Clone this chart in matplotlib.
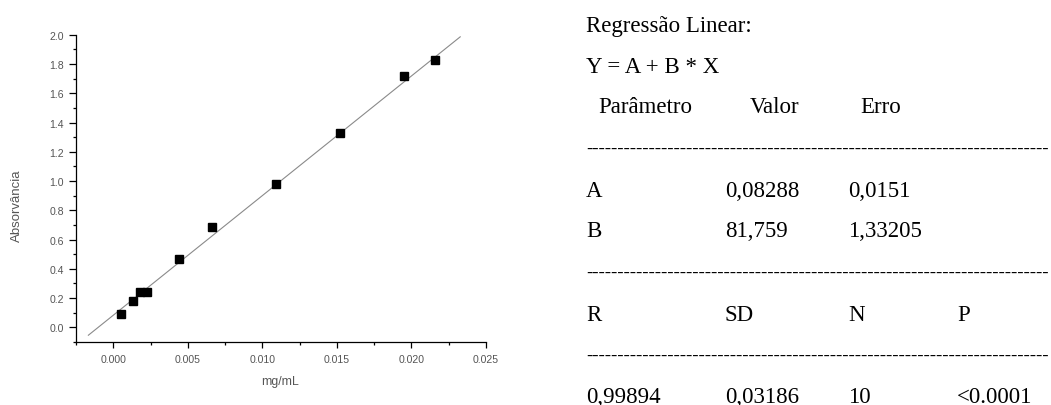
import matplotlib
matplotlib.use("Agg")
import matplotlib.pyplot as plt
import numpy as np
from matplotlib.ticker import MultipleLocator

# Data
conc = [0.00049, 0.00135, 0.0018, 0.00225, 0.00442, 0.0066, 0.0109, 0.0152, 0.01947, 0.0216]
absorb = [0.092, 0.178, 0.244, 0.240, 0.464, 0.688, 0.982, 1.327, 1.717, 1.827]
fit_A = 0.08288
fit_B = 81.759
fit_x = [-0.00167, 0.02327]

x_ticks = [0.000, 0.005, 0.010, 0.015, 0.020, 0.025]
x_ticklabels = ["0.000", "0.005", "0.010", "0.015", "0.020", "0.025"]
y_ticks = [0.0, 0.2, 0.4, 0.6, 0.8, 1.0, 1.2, 1.4, 1.6, 1.8, 2.0]

title_lines = ["Regressão Linear:", "Y = A + B * X"]
header = ["Parâmetro", "Valor", "Erro"]
row_A = ["A", "0,08288", "0,0151"]
row_B = ["B", "81,759", "1,33205"]
stats_head = ["R", "SD", "N", "P"]
stats_vals = ["0,99894", "0,03186", "10", "<0.0001"]

W, H = 1051, 406
fig = plt.figure(figsize=(W / 100, H / 100), dpi=100)

ax_l, ax_r, ax_t, ax_b = 76, 486, 35.7, 343
ax = fig.add_axes([ax_l / W, (H - ax_b) / H, (ax_r - ax_l) / W, (ax_b - ax_t) / H])
fx = np.array(fit_x)
ax.plot(fx, fit_A + fit_B * fx, color="#8a8a8a", lw=0.8)
ax.plot(conc, absorb, ls="none", marker="s", ms=5.2, color="black")
ax.set_xlim(-0.0025, 0.025)
ax.set_ylim(-0.1, 2.0)
ax.set_xticks(x_ticks)
ax.set_xticklabels(x_ticklabels)
ax.set_yticks(y_ticks)
ax.xaxis.set_minor_locator(MultipleLocator(0.0025))
ax.yaxis.set_minor_locator(MultipleLocator(0.1))
for s in ["top", "right"]:
    ax.spines[s].set_visible(False)
for s in ["left", "bottom"]:
    ax.spines[s].set_linewidth(0.9)
ax.tick_params(axis="x", which="major", direction="out", length=4, width=0.9, color="black",
               labelsize=7.6, labelcolor="#555555", pad=4.5)
ax.tick_params(axis="y", which="major", direction="out", length=5, width=0.9, color="black",
               labelsize=7.6, labelcolor="#555555", pad=3.5)
ax.tick_params(which="minor", direction="out", length=2.2, width=0.9, color="black")
for lbl in ax.get_xticklabels() + ax.get_yticklabels():
    lbl.set_family("Liberation Sans")
ax.set_xlabel("mg/mL", fontsize=8.8, color="#555555", family="Liberation Sans")
ax.set_ylabel("Absorvância", fontsize=9.5, color="#555555", family="Liberation Sans")
# label positions in axes coordinates
ax.xaxis.set_label_coords((280 - ax_l) / (ax_r - ax_l), (ax_b - 382) / (ax_b - ax_t))
ax.yaxis.set_label_coords((16.5 - ax_l) / (ax_r - ax_l), (ax_b - 206) / (ax_b - ax_t))
ax.xaxis.label.set_va("center")
ax.yaxis.label.set_va("center")

fs = 16.5
def put(px, py, s, size=fs):
    fig.text(px / W, 1 - py / H, s, fontsize=size, family="Liberation Serif", va="baseline", ha="left")

put(586, 32, title_lines[0])
put(586, 73, title_lines[1])
put(598, 113, header[0]); put(750, 113, header[1]); put(860, 113, header[2])
dashes = "-" * 74
put(586, 154, dashes, 13.5)
put(586, 197, row_A[0]); put(725, 197, row_A[1]); put(848, 197, row_A[2])
put(586, 237, row_B[0]); put(725, 237, row_B[1]); put(848, 237, row_B[2])
put(586, 278, dashes, 13.5)
put(586, 321, stats_head[0]); put(725, 321, stats_head[1]); put(848, 321, stats_head[2]); put(957, 321, stats_head[3])
put(586, 361, dashes, 13.5)
put(586, 403, stats_vals[0]); put(725, 403, stats_vals[1]); put(848, 403, stats_vals[2]); put(957, 403, stats_vals[3])

fig.savefig("out.png", dpi=100)
